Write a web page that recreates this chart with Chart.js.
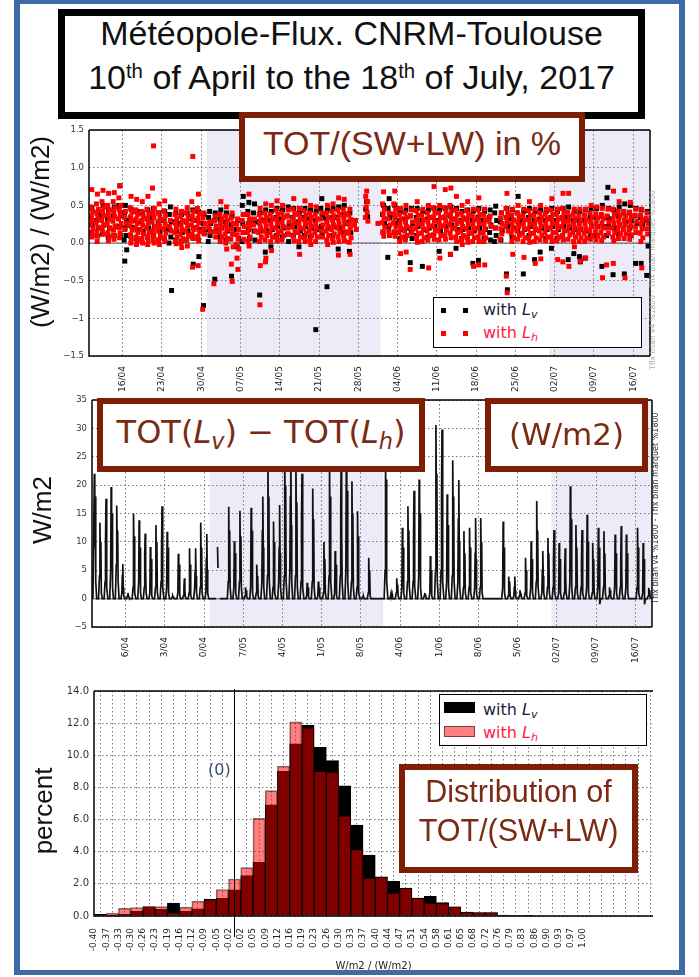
<!DOCTYPE html>
<html>
<head>
<meta charset="utf-8">
<script src="https://cdn.jsdelivr.net/npm/chart.js@4.4.1/dist/chart.umd.min.js"></script>
<style>
  body { margin: 0; background: #fff; }
  #page { position: relative; width: 699px; height: 977px; overflow: hidden; background: #fff; }
  canvas { position: absolute; left: 0; }
  .box { position: absolute; box-sizing: border-box; background: #fff; }
  .brown { border: 6px solid #7e1e04; }
  .txt { position: absolute; white-space: nowrap; line-height: 1; }
  .big { font-family: 'Liberation Sans', Arial, sans-serif; }
  .dv { font-family: 'DejaVu Sans', sans-serif; }
  .bt { color: #7b2a14; }
  .ytitle { position: absolute; white-space: nowrap; line-height: 1; font-family: 'Liberation Sans', Arial, sans-serif;
            font-size: 26px; color: #111; transform: translate(-50%, -50%) rotate(-90deg); }
  .sub { font-size: 0.7em; position: relative; top: 0.28em; font-style: italic; }
  .sup { font-size: 0.6em; position: relative; top: -0.55em; }
  .mark { position: absolute; width: 5px; height: 5px; }
  .tiny { position: absolute; white-space: nowrap; line-height: 1; font-family: 'DejaVu Sans', sans-serif;
          transform: translate(-50%, -50%) rotate(-90deg); }
</style>
</head>
<body>
<div id="page">
  <canvas id="fluxRatio" width="699" height="280" style="top:120px"></canvas>
  <canvas id="fluxDiff" width="699" height="280" style="top:390px"></canvas>
  <canvas id="fluxHist" width="699" height="296" style="top:680px"></canvas>

  <!-- titre -->
  <div class="box" style="left:58px;top:9px;width:587px;height:110px;border:7px solid #000"></div>
  <div class="txt big" style="left:58px;width:587px;text-align:center;top:16px;font-size:34px;color:#111">Météopole-Flux. CNRM-Toulouse</div>
  <div class="txt big" style="left:58px;width:587px;text-align:center;top:60px;font-size:34px;color:#111">10<span class="sup">th</span> of April to the 18<span class="sup">th</span> of July, 2017</div>

  <!-- panneau 1 -->
  <div class="box brown" style="left:239px;top:112px;width:346px;height:70px"></div>
  <div class="txt big bt" style="left:239px;width:346px;text-align:center;top:126px;font-size:34px">TOT/(SW+LW) in %</div>
  <div class="ytitle" style="left:40px;top:232px">(W/m2) / (W/m2)</div>
  <div class="box" style="left:433px;top:297px;width:209px;height:51px;border:1px solid #000"></div>
  <div class="mark" style="left:441px;top:308px;background:#000"></div>
  <div class="mark" style="left:463px;top:308px;background:#000"></div>
  <div class="mark" style="left:441px;top:331px;background:#f00"></div>
  <div class="mark" style="left:463px;top:331px;background:#f00"></div>
  <div class="txt dv" style="left:483px;top:301.5px;font-size:16px;color:#1c1c40">with <i>L</i><span class="sub">v</span></div>
  <div class="txt dv" style="left:483px;top:324.5px;font-size:16px;color:#ff1a3c">with <i>L</i><span class="sub">h</span></div>
  <div class="tiny" style="left:653px;top:280px;font-size:7.5px;color:#aaa">Tflx bilan v4 %1800 - Tflx bilan marquet %1800</div>

  <!-- panneau 2 -->
  <div class="box brown" style="left:97px;top:398px;width:328px;height:74px"></div>
  <div class="txt dv bt" style="left:97px;width:328px;text-align:center;top:416px;font-size:32px">TOT(<i>L</i><span class="sub">v</span>) − TOT(<i>L</i><span class="sub">h</span>)</div>
  <div class="box brown" style="left:485px;top:398px;width:163px;height:74px"></div>
  <div class="txt dv bt" style="left:485px;width:163px;text-align:center;top:418.8px;font-size:31px">(W/m2)</div>
  <div class="ytitle" style="left:42px;top:510px">W/m2</div>
  <div class="tiny" style="left:656px;top:508px;font-size:8px;color:#333">Tflx bilan v4 %1800 - Tflx bilan marquet %1800</div>

  <!-- panneau 3 -->
  <div class="ytitle" style="left:43px;top:811px">percent</div>
  <div class="txt dv" style="left:208px;top:761.5px;font-size:16px;color:#3d4d73">(0)</div>
  <div class="box" style="left:439px;top:694px;width:208px;height:52px;border:1px solid #000"></div>
  <div class="box" style="left:444px;top:702px;width:31px;height:11px;background:#000"></div>
  <div class="box" style="left:444px;top:726px;width:31px;height:11px;background:rgba(255,0,0,0.5);border:1px solid rgba(0,0,0,0.5)"></div>
  <div class="txt dv" style="left:483px;top:701.5px;font-size:16px;color:#1c1c40">with <i>L</i><span class="sub">v</span></div>
  <div class="txt dv" style="left:483px;top:724.5px;font-size:16px;color:#ff1a3c">with <i>L</i><span class="sub">h</span></div>
  <div class="box brown" style="left:399px;top:764px;width:239px;height:109px"></div>
  <div class="txt big bt" style="left:399px;width:239px;text-align:center;top:776.2px;font-size:30.5px">Distribution of</div>
  <div class="txt big bt" style="left:399px;width:239px;text-align:center;top:815.2px;font-size:30.5px">TOT/(SW+LW)</div>

  <!-- cadre bleu -->
  <div class="box" style="left:14px;top:0;width:671px;height:975px;border:6px solid #3e6aa6;border-top-width:4px;border-bottom-width:5px;background:transparent"></div>
</div>

<script>
// Jours comptés depuis le 10/04/2017 (0 = 10/04 00h, 100 = 19/07 00h)
const dateTicks = [6, 13, 20, 27, 34, 41, 48, 55, 62, 69, 76, 83, 90, 97];
const dateLabels = ['16/04', '23/04', '30/04', '07/05', '14/05', '21/05', '28/05', '04/06', '11/06', '18/06', '25/06', '02/07', '09/07', '16/07'];
const dateLabelsMid = ['6/04', '3/04', '0/04', '7/05', '4/05', '1/05', '8/05', '4/06', '1/06', '8/06', '5/06', '02/07', '09/07', '16/07'];
// Mois grisés (mai, juillet)
const shadeMonths = [[21, 52], [82, 100]];

// TOT/(SW+LW) par jour, avec Lh (rouge)
const ratioLh = [
  '0.71 0.48 0.42 0.36 0.30 0.25 0.20 0.14 0.08', '0.65 0.52 0.45 0.39 0.33 0.27 0.21 0.15 0.09 0.02',
  '0.70 0.55 0.48 0.42 0.36 0.30 0.24 0.18 0.12', '0.66 0.50 0.44 0.38 0.32 0.26 0.20 0.14 0.08 0.03',
  '0.67 0.55 0.47 0.41 0.35 0.29 0.23 0.17 0.10 0.05', '0.76 0.60 0.50 0.44 0.38 0.32 0.26 0.20 0.13 0.07',
  '0.42 0.34 0.26 0.18', '0.62 0.47 0.41 0.35 0.29 0.23 0.17 0.11 0.05 0.00',
  '0.58 0.44 0.38 0.32 0.26 0.20 0.14 0.08 0.02 -0.02', '0.55 0.42 0.36 0.30 0.24 0.18 0.12 0.06 0.00',
  '0.62 0.45 0.39 0.33 0.27 0.21 0.15 0.09 0.03 -0.02', '1.29 0.73 0.46 0.40 0.34 0.28 0.22 0.16 0.10 0.04 0.00',
  '0.52 0.40 0.34 0.28 0.22 0.16 0.10 0.04 -0.02', '0.56 0.43 0.37 0.31 0.25 0.19 0.13 0.07 0.02',
  '0.30 0.22 0.16', '0.45 0.38 0.32 0.26 0.20 0.14 0.08 0.02 -0.01',
  '0.42 0.36 0.30 0.24 0.18 0.12 0.06 0.00 -0.06', '0.47 0.40 0.34 0.28 0.22 0.16 0.10 0.04 -0.04',
  '1.15 0.55 0.42 0.36 0.30 0.24 0.18 0.12 0.06 -0.32', '0.65 0.46 0.39 0.33 0.27 0.21 0.15 0.09 0.03 -0.30',
  '0.40 0.33 0.26 0.19 0.12 -0.88', '0.28 0.21 0.15',
  '0.36 0.29 0.22 0.15 0.08 -0.54', '0.55 0.38 0.32 0.26 0.20 0.14 0.08 0.02',
  '0.48 0.36 0.30 0.24 0.18 0.12 0.06 0.00 -0.08', '0.40 0.33 0.26 0.19 0.12 0.05 -0.05 -0.28 -0.51',
  '0.32 0.25 0.18 0.11 0.05 -0.02 -0.08 -0.20 -0.35', '0.38 0.30 0.22 0.14 0.05',
  '0.65 0.38 0.32 0.26 0.20 0.14 0.08 0.02 -0.04', '0.32 0.24 0.16',
  '0.46 0.38 0.32 0.26 0.20 0.14 0.08 0.02 -0.30 -0.82', '0.52 0.40 0.34 0.28 0.22 0.16 0.10 0.04 -0.20 -0.25',
  '0.50 0.38 0.32 0.26 0.20 0.14 0.08 0.02 -0.10', '0.56 0.44 0.38 0.32 0.26 0.20 0.14 0.08 0.03',
  '0.50 0.40 0.34 0.28 0.22 0.16 0.10 0.04', '0.44 0.36 0.28 0.20 0.12',
  '0.59 0.45 0.39 0.33 0.27 0.21 0.15 0.09 0.03', '0.46 0.38 0.32 0.26 0.20 0.14 0.08 0.02 -0.15',
  '0.56 0.43 0.37 0.31 0.25 0.19 0.13 0.07 0.02', '0.50 0.40 0.34 0.28 0.22 0.16 0.10 0.04 -0.02',
  '0.48 0.38 0.32 0.26 0.20 0.14 0.08 0.02', '0.40 0.32 0.24 0.16 0.08',
  '0.50 0.40 0.34 0.28 0.22 0.16 0.10 0.04 -0.02', '0.52 0.42 0.36 0.30 0.24 0.18 0.12 0.06 0.01',
  '0.60 0.44 0.38 0.32 0.26 0.20 0.14 0.08 0.02 -0.16', '0.58 0.45 0.39 0.33 0.27 0.21 0.15 0.09 0.03',
  '0.45 0.37 0.31 0.25 0.19 0.13 0.07 0.01 -0.15', '0.30 0.24 0.18',
  '', '0.69 0.62 0.55 0.48 0.41 0.34 0.29', '', '0.26',
  '0.68 0.52 0.45 0.39 0.33 0.27 0.21 0.15 0.09', '0.40 0.32 0.24 0.16 0.10',
  '0.69 0.52 0.45 0.39 0.33 0.27 0.21 0.15 0.09', '0.46 0.38 0.32 0.26 0.20 0.14 0.08 0.02 -0.14',
  '0.50 0.40 0.34 0.28 0.22 0.16 0.10 0.04 -0.12', '0.44 0.36 0.28 0.20 0.13 -0.35',
  '0.55 0.43 0.37 0.31 0.25 0.19 0.13 0.07 0.01', '0.45 0.37 0.31 0.25 0.19 0.13 0.07 0.02',
  '0.50 0.40 0.34 0.28 0.22 0.16 0.10 0.04 -0.33', '0.75 0.47 0.41 0.35 0.29 0.23 0.17 0.11 0.05',
  '0.50 0.40 0.34 0.28 0.22 0.16 0.10 0.04 -0.20', '0.71 0.47 0.41 0.35 0.29 0.23 0.17 0.11 0.05',
  '0.73 0.50 0.43 0.37 0.31 0.25 0.19 0.13 0.07 -0.15', '0.62 0.44 0.38 0.32 0.26 0.20 0.14 0.08 0.02',
  '0.50 0.40 0.34 0.28 0.22 0.16 0.10 0.04 -0.02', '0.55 0.43 0.37 0.31 0.25 0.19 0.13 0.07 0.01',
  '0.45 0.37 0.31 0.25 0.19 0.13 0.07 0.02 -0.31', '0.60 0.44 0.38 0.32 0.26 0.20 0.14 0.08 0.02 -0.29',
  '0.45 0.37 0.31 0.25 0.19 0.13 0.07 0.02 -0.29', '0.36 0.29 0.22',
  '0.20', '0.40 0.33 0.26 0.19 0.12 0.05',
  '0.66 0.46 0.40 0.34 0.28 0.22 0.16 -0.44 -0.66', '0.45 0.37 0.31 0.25 0.19 0.13 0.07 0.02 -0.15',
  '0.50 0.40 0.34 0.28 0.22 0.16 0.10 0.05', '0.45 0.37 0.31 0.25 0.19 0.13 0.07 0.02 -0.19',
  '0.55 0.43 0.37 0.31 0.25 0.19 0.13 0.07 0.01', '0.45 0.37 0.31 0.25 0.19 0.13 0.07 0.02 -0.27',
  '0.50 0.40 0.34 0.28 0.22 0.16 0.10 0.04 -0.21', '0.45 0.38 0.32 0.26 0.20 0.14 0.08 0.03',
  '0.59 0.44 0.38 0.32 0.26 0.20 0.14 0.08 0.02', '0.45 0.38 0.32 0.26 0.20 0.14 0.08 0.03 -0.22',
  '0.66 0.46 0.40 0.34 0.28 0.22 0.16 0.10 0.04 -0.25', '0.66 0.41 0.35 0.29 0.23 0.17 0.11 0.05 -0.31',
  '0.45 0.38 0.32 0.26 0.20 0.14 0.08 0.02 -0.05', '0.45 0.37 0.31 0.25 0.19 0.13 0.07 0.02 -0.24',
  '0.45 0.37 0.31 0.25 0.19 0.13 0.07 0.02 -0.20', '0.50 0.40 0.34 0.28 0.22 0.16 0.10 0.05',
  '0.48 0.39 0.33 0.27 0.21 0.15 0.09 0.04', '0.46 0.38 0.32 0.26 0.20 0.14 0.08 0.03 -0.46',
  '0.45 0.36 0.28 0.20 0.13 -0.29', '0.69 0.45 0.38 0.32 0.26 0.20 0.14 0.08 0.03 -0.27',
  '0.55 0.42 0.36 0.30 0.24 0.18 0.12 0.06', '0.70 0.42 0.36 0.30 0.24 0.18 0.12 0.06 -0.46',
  '0.54 0.41 0.35 0.29 0.23 0.17 0.11 0.05', '0.45 0.37 0.29 0.21 0.14',
  '0.45 0.37 0.31 0.25 0.19 0.13 0.07 0.02 -0.33', '0.40 0.33 0.26 0.19 0.12'
];

// TOT/(SW+LW) par jour, avec Lv (noir)
const ratioLv = [
  '0.46 0.34 0.24 0.14', '0.40 0.30 0.20 0.10', '0.50 0.36 0.24 0.12', '0.44 0.32 0.20 0.08',
  '0.48 0.36 0.22 0.10', '0.76 0.50 0.36 0.22 0.10', '0.50 0.40 0.30 0.20 0.10 0.04 -0.09 -0.24', '0.45 0.33 0.21 0.09',
  '0.42 0.30 0.18 0.06', '0.40 0.28 0.16 0.04', '0.44 0.32 0.20 0.08', '0.46 0.34 0.22 0.10',
  '0.40 0.28 0.16 0.04', '0.42 0.30 0.18 0.06', '0.48 0.38 0.28 0.18 0.08 0.00 -0.63', '0.40 0.28 0.16 0.04',
  '0.38 0.26 0.14 0.02', '0.40 0.28 0.16 0.04', '0.44 0.32 0.20 0.08 -0.28', '0.42 0.30 0.18 0.06 -0.18',
  '0.38 0.26 0.14 -0.83', '0.42 0.34 0.26 0.18 0.10 0.02', '0.40 0.30 0.18 -0.48', '0.44 0.32 0.20 0.08',
  '0.40 0.28 0.16 0.04', '0.36 0.24 0.12 -0.44', '0.30 0.18 0.06 -0.05', '0.62 0.50 0.38 0.26 0.14 0.02',
  '0.54 0.42 0.30 0.18 0.06', '0.52 0.40 0.28 0.16 0.04', '0.40 0.28 0.16 -0.69', '0.44 0.30 0.16 -0.12',
  '0.42 0.30 0.18 -0.05', '0.46 0.34 0.22 0.10', '0.44 0.32 0.20 0.08', '0.48 0.36 0.24 0.12 0.02',
  '0.46 0.34 0.22 0.10', '0.40 0.28 0.16 -0.05', '0.46 0.34 0.22 0.10', '0.44 0.32 0.20 0.08',
  '0.42 0.30 0.18 -1.15', '0.59 0.46 0.34 0.22 0.10', '0.44 0.32 0.20 -0.58', '0.46 0.34 0.22 0.10',
  '0.48 0.34 0.20 -0.08', '0.50 0.38 0.26 0.14', '0.40 0.28 0.14 -0.11', '',
  '', '0.55 0.45 0.35', '', '',
  '0.50 0.38 0.26 0.14', '0.59 0.46 0.34 0.22 0.10 -0.19', '0.50 0.38 0.26 0.14', '0.42 0.30 0.18 0.06',
  '0.44 0.32 0.20 0.08', '0.46 0.36 0.26 0.16 0.06 -0.26', '0.46 0.34 0.22 0.10', '0.42 0.30 0.18 -0.31',
  '0.44 0.32 0.20 0.08', '0.46 0.34 0.22 0.10', '0.44 0.30 0.16 -0.11', '0.46 0.34 0.22 0.10',
  '0.48 0.36 0.24 -0.15', '0.46 0.32 0.18 -0.07', '0.42 0.30 0.18 0.06', '0.44 0.32 0.20 0.08',
  '0.42 0.30 0.16 -0.27', '0.46 0.34 0.20 -0.23', '0.42 0.30 0.18 0.06', '0.44 0.34 0.24 0.14 0.04',
  '0.49 0.40 0.30 0.20 0.10 0.02', '0.40 0.28 0.16 0.04', '0.46 0.34 0.22 -0.41 -0.62', '0.44 0.32 0.20 0.08',
  '0.62 0.40 0.28 0.16', '0.42 0.30 0.18 -0.41', '0.46 0.34 0.22 0.10', '0.42 0.30 0.18 -0.22',
  '0.44 0.32 0.20 -0.12', '0.42 0.30 0.18 0.06', '0.46 0.34 0.22 -0.07', '0.42 0.30 0.18 0.06',
  '0.46 0.34 0.22 0.10', '0.48 0.34 0.20 -0.22', '0.42 0.30 0.18 -0.14', '0.42 0.30 0.18 -0.18 -0.25',
  '0.44 0.30 0.16 -0.20', '0.46 0.34 0.22 0.10', '0.46 0.34 0.22 0.10', '0.50 0.36 0.22 -0.31',
  '0.74 0.60 0.46 0.34 0.22 0.10', '0.44 0.32 0.20 -0.42', '0.48 0.36 0.24 0.12', '0.52 0.40 0.28 -0.41',
  '0.50 0.40 0.30 0.20 0.10', '0.46 0.36 0.26 -0.27', '0.44 0.34 0.24 -0.27', '0.42 0.30 -0.04 -0.43'
];

// TOT(Lv) - TOT(Lh) en W/m2, valeurs par jour à 4h 8h 10h 12h 14h 16h 20h
const diffHours = [4, 8, 10, 12, 14, 16, 20];
const diffDays = [
  '0 14 22 9 18 3 0', '0 4 13.4 6 10 1 0', '0 3 10 17.6 8 2 0', '0 5 19.7 12 15 2 0', '0 6 16.4 9 12 3 0',
  '0 1 4 6.1 2 0.5 0', '0 0.5 1 0.5 0.3 0 0', '0 2 15 7 11 1 0', '0 3 13.8 6 9 1 0', '0 2 8 11.5 5 1 0',
  '0 1 9.1 4 7 0.5 0', '0 2 13 6 10 1 0', '0 3 8 16.3 7 2 0', '0 2 11.8 5 9 1 0', '0 0.3 0.5 0.3 0.2 0 0',
  '0 1 7.9 4 6 0.5 0', '0 0.5 2 3.6 1.5 0.3 0', '0 1 8.9 3 6 0.5 0', '0 2 5 8.9 4 1 0', '0 2 13.4 6 9 1 0',
  '0 1 7 11.4 5 1 0', '0 0 0 0 0 0 0', '0 null 9.1 5.4 null null 0', '0 0 0 0 0 0 0', '0 3 16.2 7 12 2 0',
  '0 2 10.1 5 8 1 0', '0 3 15.5 7 11 2 0', '0 0.5 2 1 1.5 0.3 0', '0 2 16 8 12 1 0', '0 1 6 3 4 0.5 0',
  '0 3 12 18 9 2 0', '0 4 24 12 18 3 0', '0 2 13.6 6 10 1 0', '0 3 9 16.5 8 2 0', '0 4 25 14 20 3 0',
  '0 5 18 26 13 3 0', '0 4 24 11 17 2 0', '0 3 14 22 10 2 0', '0 0.5 2.8 1 2 0.3 0', '0 3 19.4 9 14 2 0',
  '0 0.5 3 1 2 0.3 0', '0 1 10 4 7 1 0', '0 4 24 13 18 3 0', '0 1 8.4 3 6 0.5 0', '0 4 16 25 12 3 0',
  '0 5 26 14 19 3 0', '0 3 20.7 10 15 2 0', '0 2 15.4 7 11 1 0', '0 0.3 0.2 0.3 0 0 0', '0 1 7.2 3 5 0.5 0',
  '0 0 0 0 0 0 0', '0 0 0 0 0 0 0', '0 5 24 17 21 3 0', '0 0.5 1 0.5 0.8 0 0', '0 1 3.6 2 2.5 0.5 0',
  '0 2 12.5 6 9 1 0', '0 3 16.3 7 12 2 0', '0 3 10 19 9 2 0', '0 4 21 10 15 2 0', '0 0.5 1 0.5 0.7 0 0',
  '0 1 7.5 3 5 0.5 0', '0 5 30.6 15 22 3 0', '0 5 18 29.8 14 3 0', '0 3 18.4 9 13 2 0', '0 4 24.4 12 18 3 0',
  '0 3 14 20.9 10 2 0', '0 2 11.9 5 8 1 0', '0 2 12.5 6 9 1 0', '0 2 8 14.2 7 1 0', '0 2 14.2 7 10 1 0',
  '0 0 0 0 0 0 0', '0 0 0 0 0 0 0', '0 0 0 0 0 0 0', '0 2 13.6 6 9 1 0', '0 0.5 3.9 2 3 0.5 0',
  '0 0.5 2 3.9 1.5 0.3 0', '0 0.5 1.5 0.8 1 0.3 0', '0 1 7.2 3 5 0.5 0', '0 2 10.1 4 7 1 0', '0 3 17.2 8 12 2 0',
  '0 1 5 8.4 4 1 0', '0 2 10.7 5 8 1 0', '0 2 7 12.1 6 1 0', '0 1 9.8 4 7 1 0', '0 1 5 8.9 4 1 0',
  '0 3 19.8 9 14 2 0', '0 2 13 6 9 1 0', '0 2 7 12.1 6 1 0', '0 2 14.8 7 10 1 0', '0 1 9.8 4 7 1 0',
  '0 2 12.5 6 9 -1 0', '0 2 11.9 5 8 1 0', '0 0.5 2 1 1.5 0.3 0', '0 2 11.3 5 8 1 0', '0 2 6 12.8 6 1 0',
  '0 2 11.3 5 8 1 0', '0 0 0 0 0 0 0', '0 2 12.5 6 9 1 0', '0 1 9.8 4 7 -1 0', '0 0.5 1.9 1 1.5 0.3 0'
];

// Histogramme : bornes des classes et pourcentages
const binStart = -0.40;
const binWidth = 0.035;
const histLabels = ['-0.40', '-0.37', '-0.33', '-0.30', '-0.26', '-0.23', '-0.19', '-0.16', '-0.12', '-0.09', '-0.05',
  '-0.02', '0.02', '0.05', '0.09', '0.12', '0.16', '0.19', '0.23', '0.26', '0.30', '0.33', '0.37', '0.40', '0.44',
  '0.47', '0.51', '0.54', '0.58', '0.61', '0.65', '0.68', '0.72', '0.76', '0.79', '0.83', '0.86', '0.90', '0.93', '0.97', '1.00'];
const histLv = [0.10, 0.05, 0.10, 0.29, 0.55, 0.41, 0.81, 0.30, 0.45, 1.05, 1.10, 1.63, 2.52, 3.34, 6.92, 9.00, 10.71,
  11.87, 10.49, 9.67, 8.10, 5.66, 3.79, 2.44, 2.16, 1.73, 1.12, 1.22, 0.83, 0.57, 0.24, 0.22, 0.22, 0.06, 0.03, 0.02, 0, 0, 0, 0];
const histLh = [0.05, 0.18, 0.47, 0.53, 0.60, 0.58, 0.22, 0.55, 0.92, 1.02, 1.65, 2.30, 3.01, 6.07, 7.80, 9.33, 12.08,
  11.71, 9.00, 8.96, 6.23, 4.13, 2.36, 2.42, 1.43, 1.72, 1.12, 0.81, 0.77, 0.57, 0.24, 0.22, 0.22, 0.04, 0.02, 0.01, 0, 0, 0, 0];
const zeroMark = 0;

// ---------------------------------------------------------------

// Position des points dans la journée
const dayFrac = [0.5, 0.32, 0.66, 0.42, 0.58, 0.26, 0.72, 0.38, 0.54, 0.46, 0.62];

function ratioPoints(days) {
    const pts = [];
    days.forEach((s, d) => {
        if (!s) return;
        s.split(' ').forEach((v, k) => pts.push({x: d + dayFrac[k % dayFrac.length], y: parseFloat(v)}));
    });
    return pts;
}

function diffPoints(days) {
    const pts = [];
    days.forEach((s, d) => {
        s.split(' ').forEach((v, k) => pts.push({x: d + diffHours[k] / 24, y: v === 'null' ? null : parseFloat(v)}));
    });
    return pts;
}

const tickFont = {family: 'DejaVu Sans', size: 9};
const gridDots = {color: '#7a7a7a', lineWidth: 1, drawTicks: false};
const minus = v => (v < 0 ? '\u2212' + Math.abs(v) : '' + v);

// Fond grisé des mois, cadre noir, trait du zéro
function panelPlugin(opts) {
    return {
        id: 'panel',
        beforeDraw(chart) {
            const {ctx, chartArea: a, scales: {x}} = chart;
            ctx.save();
            ctx.fillStyle = '#eeebf9';
            (opts.shade || []).forEach(r => {
                const x0 = Math.max(a.left, x.getPixelForValue(r[0]));
                const x1 = Math.min(a.right, x.getPixelForValue(r[1]));
                ctx.fillRect(x0, a.top, x1 - x0, a.bottom - a.top);
            });
            ctx.restore();
        },
        afterDatasetsDraw(chart) {
            if (opts.vline === undefined) return;
            const {ctx, chartArea: a, scales: {x}} = chart;
            const px = Math.round(x.getPixelForValue(opts.vline)) + 0.5;
            ctx.save();
            ctx.strokeStyle = '#000';
            ctx.lineWidth = 1;
            ctx.beginPath();
            ctx.moveTo(px, a.top - 2);
            ctx.lineTo(px, a.bottom + 21);
            ctx.stroke();
            ctx.restore();
        },
        afterDraw(chart) {
            const {ctx, chartArea: a} = chart;
            ctx.save();
            ctx.strokeStyle = '#000';
            ctx.lineWidth = 1.5;
            ctx.beginPath();
            ctx.moveTo(a.left, a.top);
            ctx.lineTo(a.left, a.bottom);
            ctx.lineTo(a.right, a.bottom);
            if (opts.right) {
                ctx.moveTo(a.right, a.bottom);
                ctx.lineTo(a.right, a.top);
            }
            ctx.moveTo(a.left, a.top);
            ctx.lineTo(a.right, a.top);
            ctx.stroke();
            ctx.restore();
        }
    };
}

function dateAxis(labels, height) {
    return {
        type: 'linear', min: 0, max: 100,
        afterBuildTicks: s => { s.ticks = dateTicks.map(v => ({value: v})); },
        afterFit: s => { s.height = height; },
        ticks: {callback: (v, i) => labels[i], autoSkip: false, minRotation: 90, maxRotation: 90,
                font: tickFont, color: '#222', padding: 10},
        grid: gridDots,
        border: {display: false, dash: [1.5, 2.5]}
    };
}

// Panneau 1 : rapport TOT/(SW+LW)
new Chart(document.getElementById('fluxRatio'), {
    type: 'scatter',
    data: {
        datasets: [{
            label: 'with Lh',
            data: ratioPoints(ratioLh),
            backgroundColor: '#ff0000',
            pointStyle: 'rect', pointRadius: 3.5, pointBorderWidth: 0, pointHoverRadius: 3.5,
            order: 1
        }, {
            label: 'with Lv',
            data: ratioPoints(ratioLv),
            backgroundColor: '#000',
            pointStyle: 'rect', pointRadius: 3.5, pointBorderWidth: 0, pointHoverRadius: 3.5,
            order: 2
        }, {
            data: [{x: 0, y: 0}, {x: 100, y: 0}],
            showLine: true, borderColor: '#555', borderWidth: 1, pointRadius: 0,
            order: 3
        }]
    },
    options: {
        responsive: false, animation: false, devicePixelRatio: 1,
        layout: {padding: {left: 0, right: 49, top: 7, bottom: 0}},
        plugins: {legend: {display: false}, tooltip: {enabled: false}},
        scales: {
            x: dateAxis(dateLabels, 44),
            y: {
                min: -1.5, max: 1.5,
                afterFit: s => { s.width = 89; },
                ticks: {stepSize: 0.5, callback: v => minus(v.toFixed(1)), font: {family: 'DejaVu Sans', size: 8.5}, color: '#333', padding: 5},
                grid: gridDots,
                border: {display: false, dash: [1.5, 2.5]}
            }
        }
    },
    plugins: [panelPlugin({shade: shadeMonths, right: true})]
});

// Panneau 2 : TOT(Lv) - TOT(Lh)
new Chart(document.getElementById('fluxDiff'), {
    type: 'line',
    data: {
        datasets: [{
            data: diffPoints(diffDays),
            borderColor: '#111', borderWidth: 1.7, pointRadius: 0, spanGaps: false,
            order: 1
        }, {
            data: [{x: 0, y: 0}, {x: 100, y: 0}],
            borderColor: '#8a8a8a', borderWidth: 1.5, pointRadius: 0,
            order: 2
        }]
    },
    options: {
        responsive: false, animation: false, devicePixelRatio: 1,
        layout: {padding: {left: 0, right: 47, top: 7, bottom: 0}},
        plugins: {legend: {display: false}, tooltip: {enabled: false}},
        scales: {
            x: dateAxis(dateLabelsMid, 43),
            y: {
                min: -5, max: 35,
                afterFit: s => { s.width = 92; },
                ticks: {stepSize: 5, callback: v => minus(v), font: {family: 'DejaVu Sans', size: 8.5}, color: '#333', padding: 5},
                grid: gridDots,
                border: {display: false, dash: [1.5, 2.5]}
            }
        }
    },
    plugins: [panelPlugin({shade: shadeMonths, right: true})]
});

// Panneau 3 : distribution
const histTicks = [];
for (let i = 0; binStart + i * binWidth < 1.2; i++) histTicks.push(binStart + i * binWidth);
const binCenter = i => binStart + (i + 0.5) * binWidth;

new Chart(document.getElementById('fluxHist'), {
    type: 'bar',
    data: {
        datasets: [{
            label: 'with Lh',
            data: histLh.map((v, i) => ({x: binCenter(i), y: v})),
            backgroundColor: 'rgba(255,0,0,0.5)', borderColor: 'rgba(0,0,0,0.55)', borderWidth: 1,
            grouped: false, barPercentage: 1, categoryPercentage: 1,
            order: 1
        }, {
            label: 'with Lv',
            data: histLv.map((v, i) => ({x: binCenter(i), y: v})),
            backgroundColor: '#000', borderColor: '#000', borderWidth: 1,
            grouped: false, barPercentage: 1, categoryPercentage: 1,
            order: 2
        }]
    },
    options: {
        responsive: false, animation: false, devicePixelRatio: 1,
        layout: {padding: {left: 0, right: 46, top: 7, bottom: 0}},
        plugins: {legend: {display: false}, tooltip: {enabled: false}},
        scales: {
            x: {
                type: 'linear', min: -0.4, max: 1.2, offset: false,
                afterBuildTicks: s => { s.ticks = histTicks.map(v => ({value: v})); },
                afterFit: s => { s.height = 60; },
                ticks: {callback: (v, i) => histLabels[i] || '', autoSkip: false, minRotation: 90, maxRotation: 90,
                        font: tickFont, color: '#222', padding: 12},
                grid: gridDots,
                border: {display: false, dash: [1.5, 2.5]},
                title: {display: true, text: 'W/m2 / (W/m2)', font: {family: 'DejaVu Sans', size: 10}, color: '#222',
                        padding: {top: 0, bottom: 4}}
            },
            y: {
                min: 0, max: 14,
                afterFit: s => { s.width = 94; },
                ticks: {stepSize: 2, callback: v => v.toFixed(1), font: {family: 'DejaVu Sans', size: 10}, color: '#333', padding: 5},
                grid: gridDots,
                border: {display: false, dash: [1.5, 2.5]}
            }
        }
    },
    plugins: [panelPlugin({vline: zeroMark, right: false})]
});
</script>
</body>
</html>
